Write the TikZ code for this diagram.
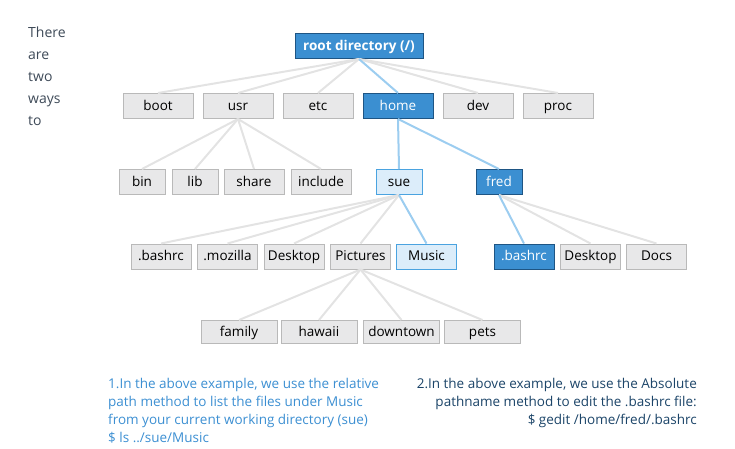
\documentclass[tikz,border=0pt]{standalone}
\usepackage{fontspec}
\setmainfont{Open Sans}
\usepackage{xcolor}
\usetikzlibrary{positioning}

\definecolor{dirfill}{HTML}{E8E8E9}
\definecolor{dirline}{HTML}{B9B9B9}
\definecolor{pathfill}{HTML}{DCEDFA}
\definecolor{pathline}{HTML}{4AA3E0}
\definecolor{hitfill}{HTML}{3B8FD1}
\definecolor{hitline}{HTML}{1E5584}
\definecolor{linkgrey}{HTML}{E3E3E3}
\definecolor{linkblue}{HTML}{9CCDF0}
\definecolor{introtext}{HTML}{3E4A58}
\definecolor{notelight}{HTML}{3C8FD2}
\definecolor{notedark}{HTML}{1B4468}

\begin{document}
\begin{tikzpicture}[x=1pt, y=-1pt]
	\tikzstyle{dirbox}=[draw=dirline, line width=1pt, fill=dirfill, text=black, minimum height=25pt, inner sep=0pt, text height=10.5pt, text depth=2.5pt, font=\fontsize{13.5}{15}\selectfont]
	\tikzstyle{pathbox}=[dirbox, draw=pathline, fill=pathfill]
	\tikzstyle{hitbox}=[dirbox, draw=hitline, fill=hitfill, text=white]
	\tikzstyle{link}=[draw=linkgrey, line width=2pt]
	\tikzstyle{pathlink}=[draw=linkblue, line width=2pt]

	\useasboundingbox (0,0) rectangle (735,448);

	\node (intro) at (28,27) [anchor=north west, inner sep=0pt, align=left, text=introtext, font=\fontsize{14}{22}\selectfont] {There\\are\\two\\ways\\to};

	% root
	\node (root) at (359,46) [hitbox, minimum width=128pt, font=\bfseries\fontsize{13.5}{15}\selectfont] {root directory (/)};

	% first level
	\node (boot) at (158,106) [dirbox, minimum width=70pt] {boot};
	\node (usr)  at (238,106) [dirbox, minimum width=70pt] {usr};
	\node (etc)  at (318,106) [dirbox, minimum width=70pt] {etc};
	\node (home) at (398,106) [hitbox, minimum width=70pt] {home};
	\node (dev)  at (478,106) [dirbox, minimum width=70pt] {dev};
	\node (proc) at (558,106) [dirbox, minimum width=70pt] {proc};

	% second level
	\node (bin)     at (142,182) [dirbox, minimum width=46pt] {bin};
	\node (lib)     at (195,182) [dirbox, minimum width=46pt] {lib};
	\node (share)   at (254,182) [dirbox, minimum width=60pt] {share};
	\node (include) at (321,182) [dirbox, minimum width=60pt] {include};
	\node (sue)     at (399,182) [pathbox, minimum width=46pt] {sue};
	\node (fred)    at (499,182) [hitbox, minimum width=46pt] {fred};

	% third level
	\node (suebashrc) at (161,256.5) [dirbox, minimum width=60pt] {.bashrc};
	\node (mozilla)   at (227.5,256.5) [dirbox, minimum width=60pt] {.mozilla};
	\node (suedesk)   at (294,256.5) [dirbox, minimum width=60pt] {Desktop};
	\node (pictures)  at (360.5,256.5) [dirbox, minimum width=60pt] {Pictures};
	\node (music)     at (426.5,256.5) [pathbox, minimum width=60pt] {Music};
	\node (fredbashrc) at (524,256.5) [hitbox, minimum width=60pt] {.bashrc};
	\node (freddesk)   at (590.5,256.5) [dirbox, minimum width=60pt] {Desktop};
	\node (docs)       at (656.5,256.5) [dirbox, minimum width=60pt] {Docs};

	% fourth level
	\node (family)   at (239,332) [dirbox, minimum width=76pt, minimum height=23pt] {family};
	\node (hawaii)   at (319,332) [dirbox, minimum width=76pt, minimum height=23pt] {hawaii};
	\node (downtown) at (401.5,332) [dirbox, minimum width=76pt, minimum height=23pt] {downtown};
	\node (pets)     at (482.5,332) [dirbox, minimum width=76pt, minimum height=23pt] {pets};

	\foreach \child in {boot,usr,etc,dev,proc}
		\draw [link] (root.south) -- (\child.north);
	\draw [pathlink] (root.south) -- (home.north);

	\foreach \child in {bin,lib,share,include}
		\draw [link] (usr.south) -- (\child.north);
	\draw [pathlink] (home.south) -- (sue.north);
	\draw [pathlink] (home.south) -- (fred.north);

	\foreach \child in {suebashrc,mozilla,suedesk,pictures}
		\draw [link] (sue.south) -- (\child.north);
	\draw [pathlink] (sue.south) -- (music.north);

	\foreach \child in {freddesk,docs}
		\draw [link] (fred.south) -- (\child.north);
	\draw [pathlink] (fred.south) -- (fredbashrc.north);

	\foreach \child in {family,hawaii,downtown,pets}
		\draw [link] (pictures.south) -- (\child.north);

	% notes
	\node (relnote) at (108,378.5) [anchor=north west, inner sep=0pt, align=left, text=notelight, font=\fontsize{13.5}{18}\selectfont] {1.In the above example, we use the relative\\path method to list the files under Music\\from your current working directory (sue)\\\$ ls ../sue/Music};
	\node (absnote) at (697,378.5) [anchor=north east, inner sep=0pt, align=right, text=notedark, font=\fontsize{13.5}{18}\selectfont] {2.In the above example, we use the Absolute\\pathname method to edit the .bashrc file:\\\$ gedit /home/fred/.bashrc};
\end{tikzpicture}
\end{document}
